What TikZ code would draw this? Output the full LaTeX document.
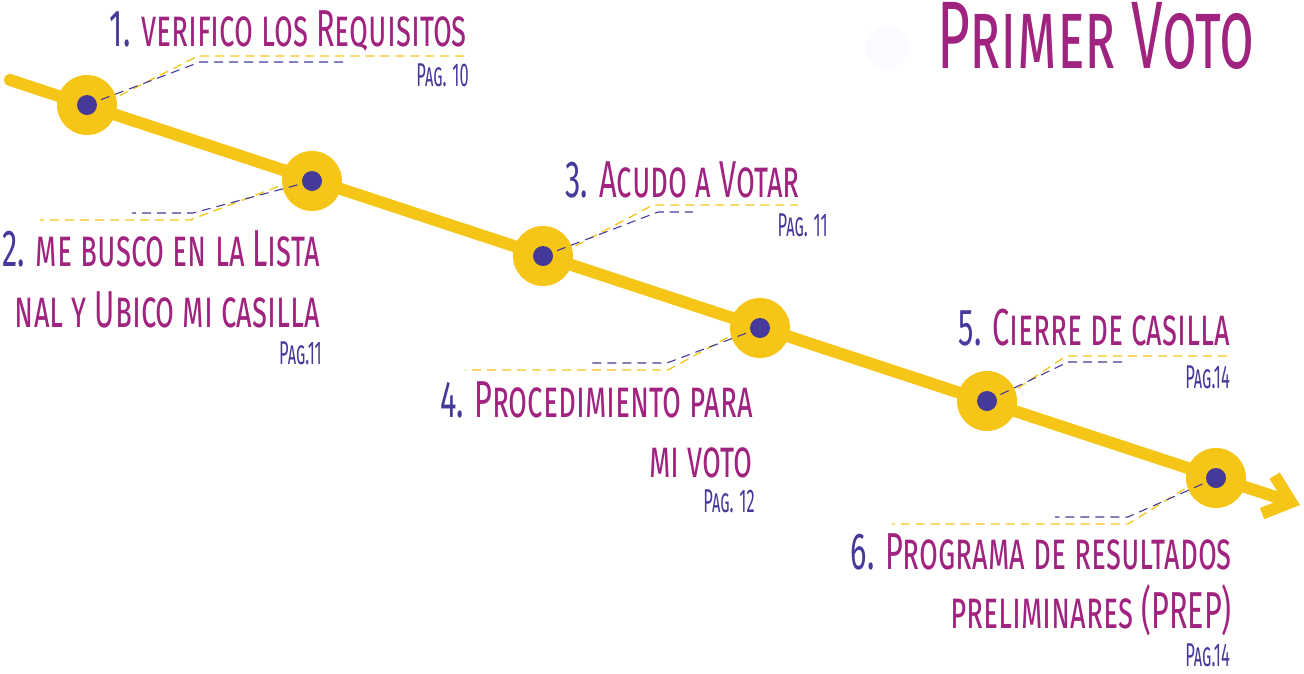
\documentclass[tikz,border=0pt]{standalone}
\usepackage{fontspec}
\usetikzlibrary{arrows.meta}
\newfontfamily\hand[FakeStretch=0.59,Letters=SmallCaps]{Fira Sans}
\newfontfamily\handpag[FakeStretch=0.5,Letters=SmallCaps]{Fira Sans}
\definecolor{amarillo}{HTML}{F5C518}
\definecolor{morado}{HTML}{A0237F}
\definecolor{azul}{HTML}{453A9A}
\definecolor{nube}{HTML}{F9FBFE}
\newcommand{\paso}[1]{\textcolor{azul}{#1}}

\begin{document}
\begin{tikzpicture}[x=1pt,y=-1pt]
                        \tikzstyle{parada}=[circle, fill=amarillo, minimum size=60pt, inner sep=0pt]
                        \tikzstyle{punto}=[circle, fill=azul, minimum size=20pt, inner sep=0pt]
                        \tikzstyle{titulo}=[anchor=base east, inner sep=0pt, text=morado, font=\hand\fontsize{52}{52}\selectfont]
                        \tikzstyle{pagina}=[anchor=base east, inner sep=0pt, text=azul, font=\handpag\fontsize{33}{33}\selectfont]
                        \tikzstyle{guia amarilla}=[draw=amarillo, line width=1.3pt, dash pattern=on 9pt off 6pt]
                        \tikzstyle{guia azul}=[draw=azul, line width=1.1pt, dash pattern=on 9pt off 6pt]
                        \useasboundingbox (0,0) rectangle (1304,673);
                        % linea del tiempo
                        \coordinate (inicio) at (10,80);
                        \coordinate (fin) at (1300,505);
                        \draw[amarillo, line width=12pt, line cap=round,
                            -{Straight Barb[length=24pt, width=40pt]}] (inicio) -- (fin);
                        \fill[nube] (887,47) circle (22);
                        \node[text=morado, anchor=base east, inner sep=0pt,
                            font=\hand\fontsize{96}{96}\selectfont] (encabezado) at (1255,68) {Primer Voto};
                        % paradas
                        \node[parada] (p1) at (87,105) {};
                        \node[parada] (p2) at (312,181) {};
                        \node[parada] (p3) at (543,256) {};
                        \node[parada] (p4) at (760,328) {};
                        \node[parada] (p5) at (987,401) {};
                        \node[parada] (p6) at (1216,478) {};
                        % guias
                        \coordinate (a1) at (198,56);  \coordinate (b1) at (200,62);
                        \coordinate (a2) at (190,220); \coordinate (b2) at (193,213);
                        \coordinate (a3) at (653,205); \coordinate (b3) at (658,212);
                        \coordinate (a4) at (668,370); \coordinate (b4) at (667,363);
                        \coordinate (a5) at (1066,356); \coordinate (b5) at (1068,362);
                        \coordinate (a6) at (1128,524); \coordinate (b6) at (1128,517);
                        \draw[guia amarilla] ([xshift=6pt,yshift=-4pt]p1.center) -- (a1) -- ++(270,0);
                        \draw[guia azul] (p1.center) -- (b1) -- ++(147,0);
                        \draw[guia amarilla] ([xshift=-6pt,yshift=5pt]p2.center) -- (a2) -- ++(-150,0);
                        \draw[guia azul] (p2.center) -- (b2) -- ++(-61,0);
                        \draw[guia amarilla] ([xshift=6pt,yshift=-4pt]p3.center) -- (a3) -- ++(145,0);
                        \draw[guia azul] (p3.center) -- (b3) -- ++(35,0);
                        \draw[guia amarilla] ([xshift=-6pt,yshift=5pt]p4.center) -- (a4) -- ++(-203,0);
                        \draw[guia azul] (p4.center) -- (b4) -- ++(-75,0);
                        \draw[guia amarilla] ([xshift=6pt,yshift=-4pt]p5.center) -- (a5) -- ++(162,0);
                        \draw[guia azul] (p5.center) -- (b5) -- ++(54,0);
                        \draw[guia amarilla] ([xshift=-6pt,yshift=5pt]p6.center) -- (a6) -- ++(-236,0);
                        \draw[guia azul] (p6.center) -- (b6) -- ++(-73,0);
                        \foreach \p in {p1,p2,p3,p4,p5,p6}
                            \node[punto] at (\p) {};
                        % textos
                        \node[titulo] (t1) at (467,46) {\paso{1.} verifico los Requisitos};
                        \node[pagina] (g1) at (469,86) {Pag. 10};
                        \node[titulo] (t2) at (320,266) {\paso{2.} me busco en la Lista};
                        \node[titulo] (t2b) at (320,327) {nal y Ubico mi casilla};
                        \node[pagina] (g2) at (322,364) {Pag.11};
                        \node[titulo] (t3) at (800,197) {\paso{3.} Acudo a Votar};
                        \node[pagina] (g3) at (828,236) {Pag. 11};
                        \node[titulo] (t4) at (753,417) {\paso{4.} Procedimiento para};
                        \node[titulo] (t4b) at (753,477) {mi voto};
                        \node[pagina] (g4) at (755,512) {Pag. 12};
                        \node[titulo] (t5) at (1230,345) {\paso{5.} Cierre de casilla};
                        \node[pagina] (g5) at (1230,388) {Pag.14};
                        \node[titulo] (t6) at (1232,569) {\paso{6.} Programa de resultados};
                        \node[titulo] (t6b) at (1232,628) {preliminares (PREP)};
                        \node[pagina] (g6) at (1230,666) {Pag.14};
                    \end{tikzpicture}
\end{document}
